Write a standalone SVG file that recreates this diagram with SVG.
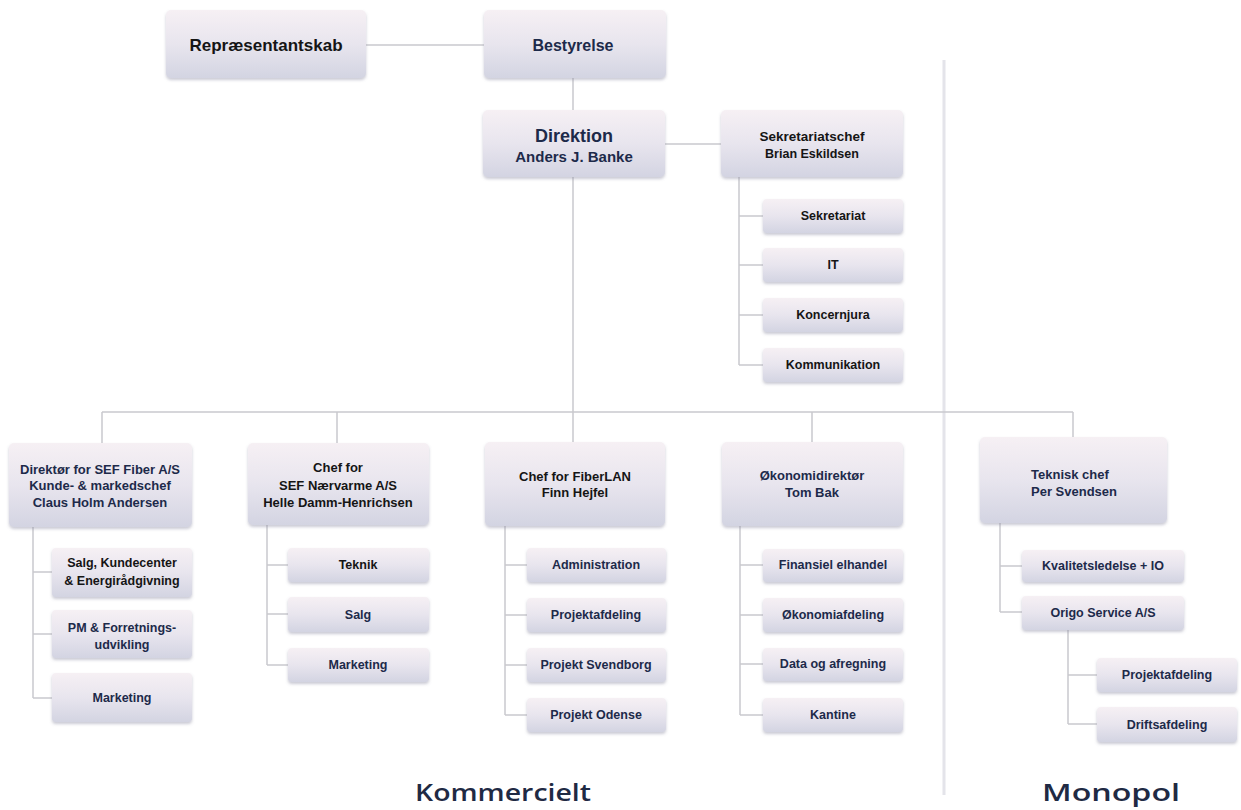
<svg xmlns="http://www.w3.org/2000/svg" width="1241" height="810" viewBox="0 0 1241 810">
<defs>
<linearGradient id="g" x1="0" y1="0" x2="0" y2="1">
<stop offset="0" stop-color="#f6f0f4"/>
<stop offset="0.5" stop-color="#e8e5ee"/>
<stop offset="1" stop-color="#d3d4e2"/>
</linearGradient>
<filter id="sh" x="-10%" y="-10%" width="120%" height="130%">
<feDropShadow dx="0" dy="2" stdDeviation="1.8" flood-color="#8a8aa0" flood-opacity="0.45"/>
</filter>
<style>
.box{fill:url(#g);filter:url(#sh)}
.t{font-family:"Liberation Sans",Arial,sans-serif;font-weight:bold;font-size:12.5px;text-anchor:middle;fill:#1d2a4a}
.m{font-size:13px}
.k{fill:#151515}
.c{stroke:#c9c9ce;stroke-width:1.5;fill:none}
.lbl{font-family:"Open Sans","Liberation Sans",sans-serif;font-weight:600;font-size:24px;text-anchor:middle;fill:#1f2a44}
</style>
</defs>
<rect width="1241" height="810" fill="#ffffff"/>
<line x1="944" y1="60" x2="944" y2="795" stroke="#e4e4ea" stroke-width="3"/>

<g id="connectors">
<path class="c" d="M366 45H484M573 78V110M665 144H721"/>
<path class="c" d="M739 177V365M739 216H763M739 265H763M739 315H763M739 365H763"/>
<path class="c" d="M573 177V412M102 412H1073M102 412V443M337 412V443M573 412V442M812 412V442M1073 412V437"/>
<path class="c" d="M33 527V698M33 572H52M33 634H52M33 698H52"/>
<path class="c" d="M267 525V665M267 565H288M267 614H288M267 665H288"/>
<path class="c" d="M505 526V715M505 565H527M505 615H527M505 665H527M505 715H527"/>
<path class="c" d="M740 526V715M740 565H763M740 615H763M740 664H763M740 715H763"/>
<path class="c" d="M1000 523V612M1000 566H1022M1000 612H1022"/>
<path class="c" d="M1068 629V724M1068 675H1097M1068 724H1097"/>
</g>

<g id="repraesentantskab"><rect class="box" x="166" y="10" width="200" height="68" rx="5"/><text class="t k" x="266" y="51" style="font-size:17px">Repræsentantskab</text></g>
<g id="bestyrelse"><rect class="box" x="484" y="10" width="182" height="68" rx="5"/><text class="t" x="573" y="51" style="font-size:16px">Bestyrelse</text></g>
<g id="direktion"><rect class="box" x="483" y="110" width="182" height="67" rx="5"/><text class="t" x="574" y="142" style="font-size:18px">Direktion</text><text class="t" x="574" y="162" style="font-size:15px">Anders J. Banke</text></g>
<g id="sekretariatschef"><rect class="box" x="721" y="110" width="182" height="67" rx="5"/><text class="t k" x="812" y="141" style="font-size:13.5px">Sekretariatschef</text><text class="t k" x="812" y="158">Brian Eskildsen</text></g>
<g id="sekretariat"><rect class="box" x="763" y="199" width="140" height="34" rx="4"/><text class="t k" x="833" y="220">Sekretariat</text></g>
<g id="it"><rect class="box" x="763" y="248" width="140" height="34" rx="4"/><text class="t k" x="833" y="269">IT</text></g>
<g id="koncernjura"><rect class="box" x="763" y="298" width="140" height="34" rx="4"/><text class="t k" x="833" y="319">Koncernjura</text></g>
<g id="kommunikation"><rect class="box" x="763" y="348" width="140" height="34" rx="4"/><text class="t k" x="833" y="369">Kommunikation</text></g>

<g id="direktoer-sef-fiber"><rect class="box" x="9" y="443" width="183" height="84" rx="5"/><text class="t m" x="100" y="474">Direktør for SEF Fiber A/S</text><text class="t m" x="100" y="490">Kunde- &amp; markedschef</text><text class="t m" x="100" y="507">Claus Holm Andersen</text></g>
<g id="salg-kundecenter"><rect class="box" x="52" y="548" width="140" height="49" rx="4"/><text class="t k" x="122" y="567">Salg, Kundecenter</text><text class="t k" x="122" y="585">&amp; Energirådgivning</text></g>
<g id="pm-forretning"><rect class="box" x="52" y="610" width="140" height="48" rx="4"/><text class="t" x="122" y="632">PM &amp; Forretnings-</text><text class="t" x="122" y="649">udvikling</text></g>
<g id="marketing-fiber"><rect class="box" x="52" y="673" width="140" height="49" rx="4"/><text class="t" x="122" y="702">Marketing</text></g>

<g id="chef-naervarme"><rect class="box" x="248" y="443" width="181" height="82" rx="5"/><text class="t m k" x="338" y="472">Chef for</text><text class="t m k" x="338" y="490">SEF Nærvarme A/S</text><text class="t m k" x="338" y="507">Helle Damm-Henrichsen</text></g>
<g id="teknik"><rect class="box" x="288" y="548" width="141" height="34" rx="4"/><text class="t k" x="358" y="569">Teknik</text></g>
<g id="salg"><rect class="box" x="288" y="597" width="141" height="35" rx="4"/><text class="t" x="358" y="619">Salg</text></g>
<g id="marketing-naervarme"><rect class="box" x="288" y="648" width="141" height="34" rx="4"/><text class="t" x="358" y="669">Marketing</text></g>

<g id="chef-fiberlan"><rect class="box" x="485" y="442" width="180" height="84" rx="5"/><text class="t m k" x="575" y="481">Chef for FiberLAN</text><text class="t m k" x="575" y="497">Finn Hejfel</text></g>
<g id="administration"><rect class="box" x="527" y="548" width="139" height="34" rx="4"/><text class="t" x="596" y="569">Administration</text></g>
<g id="projektafdeling-fl"><rect class="box" x="527" y="598" width="139" height="34" rx="4"/><text class="t" x="596" y="619">Projektafdeling</text></g>
<g id="projekt-svendborg"><rect class="box" x="527" y="648" width="139" height="34" rx="4"/><text class="t" x="596" y="669">Projekt Svendborg</text></g>
<g id="projekt-odense"><rect class="box" x="527" y="698" width="139" height="34" rx="4"/><text class="t" x="596" y="719">Projekt Odense</text></g>

<g id="oekonomidirektoer"><rect class="box" x="722" y="442" width="181" height="84" rx="5"/><text class="t m" x="812" y="480">Økonomidirektør</text><text class="t m" x="812" y="497">Tom Bak</text></g>
<g id="finansiel-elhandel"><rect class="box" x="763" y="549" width="140" height="33" rx="4"/><text class="t" x="833" y="569">Finansiel elhandel</text></g>
<g id="oekonomiafdeling"><rect class="box" x="763" y="598" width="140" height="34" rx="4"/><text class="t" x="833" y="619">Økonomiafdeling</text></g>
<g id="data-afregning"><rect class="box" x="763" y="648" width="140" height="33" rx="4"/><text class="t" x="833" y="668">Data og afregning</text></g>
<g id="kantine"><rect class="box" x="763" y="698" width="140" height="34" rx="4"/><text class="t" x="833" y="719">Kantine</text></g>

<g id="teknisk-chef"><rect class="box" x="980" y="437" width="187" height="86" rx="5"/><text class="t m" x="1031" y="479" style="text-anchor:start">Teknisk chef</text><text class="t m" x="1031" y="496" style="text-anchor:start">Per Svendsen</text></g>
<g id="kvalitetsledelse"><rect class="box" x="1022" y="550" width="162" height="32" rx="4"/><text class="t" x="1103" y="570">Kvalitetsledelse + IO</text></g>
<g id="origo-service"><rect class="box" x="1022" y="596" width="162" height="34" rx="4"/><text class="t" x="1103" y="617">Origo Service A/S</text></g>
<g id="projektafdeling-origo"><rect class="box" x="1097" y="658" width="140" height="34" rx="4"/><text class="t" x="1167" y="679">Projektafdeling</text></g>
<g id="driftsafdeling"><rect class="box" x="1097" y="707" width="140" height="35" rx="4"/><text class="t" x="1167" y="729">Driftsafdeling</text></g>

<g id="labels">
<text class="lbl" x="503" y="801" textLength="176" lengthAdjust="spacingAndGlyphs">Kommercielt</text>
<text class="lbl" x="1111" y="801" textLength="138" lengthAdjust="spacingAndGlyphs">Monopol</text>
</g>
</svg>
